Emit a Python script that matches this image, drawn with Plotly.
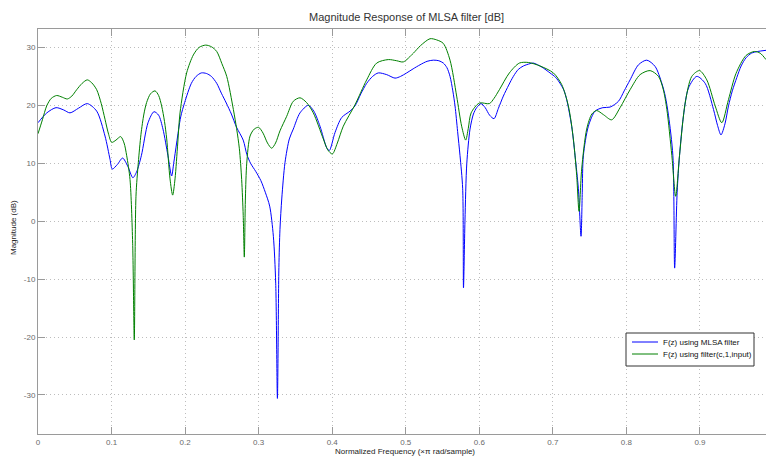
import plotly.graph_objects as go

# Normalized frequency (x pi rad/sample) and magnitude (dB)
freq_mlsa = [0.000, 0.012, 0.0245, 0.035, 0.0435, 0.055, 0.067, 0.0798, 0.0911, 0.0979,
             0.1010, 0.1080, 0.1150, 0.1220, 0.1290, 0.1340, 0.1405, 0.1496, 0.1577, 0.1640,
             0.1699, 0.1767, 0.1817, 0.1845, 0.1885, 0.1940, 0.1994, 0.2085, 0.2150, 0.2221,
             0.2290, 0.2357, 0.2430, 0.2493, 0.2560, 0.2629, 0.2700, 0.2790, 0.2840, 0.2890,
             0.2960, 0.3030, 0.3090, 0.3150, 0.3200, 0.3232, 0.3255, 0.3275, 0.3290, 0.3315,
             0.3358, 0.3417, 0.3471, 0.3562, 0.3675, 0.3750, 0.3834, 0.3925, 0.3961, 0.4038,
             0.4129, 0.4242, 0.4310, 0.4390, 0.4469, 0.4550, 0.4627, 0.4741, 0.4854, 0.4930,
             0.5013, 0.5100, 0.5194, 0.5290, 0.5375, 0.5450, 0.5511, 0.5560, 0.5602, 0.5640,
             0.5670, 0.5705, 0.5738, 0.5774, 0.5785, 0.5805, 0.5830, 0.5874, 0.5920, 0.5964,
             0.6023, 0.6080, 0.6140, 0.6200, 0.6260, 0.6327, 0.6400, 0.6463, 0.6530, 0.6600,
             0.6690, 0.6735, 0.6850, 0.6961, 0.7040, 0.7097, 0.7150, 0.7188, 0.7256, 0.7302,
             0.7347, 0.7383, 0.7400, 0.7415, 0.7483, 0.7574, 0.7680, 0.7778, 0.7892, 0.7970,
             0.8050, 0.8164, 0.8277, 0.8391, 0.8482, 0.8530, 0.8573, 0.8632, 0.8656, 0.8690,
             0.8722, 0.8776, 0.8844, 0.8957, 0.9071, 0.9184, 0.9240, 0.9286, 0.9340, 0.9388,
             0.9440, 0.9501, 0.9560, 0.9626, 0.9700, 0.9785, 0.9898]
mag_mlsa = [17.0, 18.7, 19.6, 19.2, 18.7, 19.5, 20.3, 19.0, 14.7, 10.7,
            9.0, 9.8, 10.9, 9.5, 7.5, 8.5, 11.3, 17.0, 18.9, 18.3,
            15.9, 11.3, 7.8, 10.0, 13.5, 18.0, 20.5, 23.8, 25.0, 25.6,
            25.5, 25.0, 23.8, 22.1, 20.4, 18.5, 16.2, 14.0, 11.5, 10.0,
            8.6, 7.0, 5.0, 2.6, -2.6, -10.7, -30.6, -8.0, -1.4, 4.0,
            10.1, 14.2, 15.9, 18.7, 20.0, 19.0, 16.4, 12.7, 12.2, 15.3,
            17.9, 19.0, 19.9, 22.0, 23.8, 25.0, 25.6, 25.3, 24.7, 25.0,
            25.6, 26.3, 27.0, 27.6, 27.8, 27.7, 27.3, 26.5, 25.0, 22.5,
            19.9, 15.5, 11.3, 5.6, -11.5, 0.0, 10.0, 15.9, 18.5, 19.6,
            20.3, 19.6, 18.3, 17.7, 19.5, 21.6, 23.5, 25.0, 26.2, 26.8,
            27.2, 27.3, 26.6, 25.6, 24.8, 23.8, 22.6, 21.0, 16.4, 11.3,
            5.6, -2.6, 5.0, 11.3, 16.4, 19.0, 19.6, 19.7, 20.7, 22.5,
            24.4, 27.0, 27.8, 26.7, 23.8, 21.5, 18.2, 11.3, -8.1, 5.0,
            11.3, 18.2, 23.0, 25.0, 23.8, 19.3, 16.5, 14.9, 16.8, 19.9,
            22.5, 24.8, 26.8, 28.2, 29.0, 29.3, 29.5]

freq_filter = [0.000, 0.006, 0.0118, 0.018, 0.0254, 0.033, 0.0399, 0.0460, 0.0526, 0.060,
               0.067, 0.0730, 0.0798, 0.0860, 0.0911, 0.0960, 0.1002, 0.1060, 0.1124, 0.1170,
               0.1206, 0.1251, 0.1287, 0.1309, 0.1332, 0.1364, 0.1400, 0.1440, 0.1477, 0.1530,
               0.1591, 0.1640, 0.1681, 0.1720, 0.1750, 0.1795, 0.1831, 0.1863, 0.1900, 0.1931,
               0.2021, 0.2112, 0.2190, 0.2280, 0.2360, 0.2430, 0.2500, 0.2566, 0.2656, 0.2700,
               0.2738, 0.2769, 0.2790, 0.2805, 0.2820, 0.2838, 0.2883, 0.2940, 0.3000, 0.3060,
               0.3120, 0.3177, 0.3230, 0.3290, 0.3381, 0.3471, 0.3562, 0.3650, 0.3743, 0.3879,
               0.3940, 0.4002, 0.4070, 0.4151, 0.4310, 0.4469, 0.4605, 0.4763, 0.4877, 0.4967,
               0.5103, 0.5200, 0.5330, 0.5420, 0.5510, 0.5602, 0.5692, 0.5760, 0.5815, 0.5850,
               0.5889, 0.6000, 0.6137, 0.6200, 0.6273, 0.6409, 0.6545, 0.6667, 0.6826, 0.7007,
               0.7120, 0.7211, 0.7279, 0.7324, 0.7356, 0.7392, 0.7460, 0.7530, 0.7596, 0.7687,
               0.7800, 0.7914, 0.8050, 0.8186, 0.8322, 0.8436, 0.8500, 0.8550, 0.8618, 0.8670,
               0.8722, 0.8799, 0.8889, 0.8994, 0.9093, 0.9207, 0.9297, 0.9388, 0.9490, 0.9626,
               0.9740, 0.9819, 0.9898]
mag_filter = [15.1, 17.5, 19.9, 21.2, 21.7, 21.4, 21.1, 21.6, 22.7, 23.8,
              24.4, 23.9, 22.7, 20.3, 17.6, 15.0, 13.6, 14.0, 14.6, 13.5,
              11.3, 7.2, -3.8, -20.5, 4.3, 10.1, 15.0, 18.5, 20.5, 22.0,
              22.5, 21.7, 19.9, 17.2, 14.2, 7.3, 4.5, 7.3, 13.5, 18.7,
              25.6, 28.7, 30.0, 30.4, 30.1, 29.3, 27.2, 25.0, 19.3, 16.0,
              12.5, 7.2, 1.0, -6.2, 4.0, 10.0, 14.7, 15.9, 16.2, 15.2,
              13.5, 12.6, 13.5, 15.6, 18.1, 20.7, 21.3, 20.5, 18.7, 14.2,
              12.3, 11.6, 13.5, 16.4, 20.1, 24.4, 27.3, 27.9, 27.7, 27.5,
              29.0, 30.3, 31.5, 31.3, 30.7, 27.8, 21.6, 16.4, 14.0, 16.0,
              18.7, 20.4, 20.3, 21.2, 22.7, 25.6, 27.3, 27.4, 26.8, 25.6,
              23.6, 19.9, 14.2, 7.9, 1.7, 9.0, 15.9, 18.5, 19.1, 18.4,
              17.5, 19.6, 22.7, 25.3, 26.0, 25.0, 22.8, 19.3, 11.3, 4.3,
              11.3, 20.4, 25.0, 26.0, 24.4, 19.9, 17.0, 21.0, 25.5, 28.6,
              29.3, 29.0, 27.9]

x_ticks = [0, 0.1, 0.2, 0.3, 0.4, 0.5, 0.6, 0.7, 0.8, 0.9]
x_tick_labels = ["0", "0.1", "0.2", "0.3", "0.4", "0.5", "0.6", "0.7", "0.8", "0.9"]
y_ticks = [-30, -20, -10, 0, 10, 20, 30]
y_tick_labels = ["-30", "-20", "-10", "0", "10", "20", "30"]
series_names = ["F(z) using MLSA filter", "F(z) using filter(c,1,input)"]
series_colors = ["#0000ff", "#008000"]

FONT = "Liberation Sans"
AXIS_GRAY = "#9a9a9a"
GRID_GRAY = "#bdbdbd"

W, H = 766, 458
PLOT_L, PLOT_T, PLOT_B = 38, 29, 434          # plot box in page pixels
ML, MR, MT, MB = PLOT_L, 0, PLOT_T, H - PLOT_B
PW, PH = W - ML - MR, H - MT - MB


def px_x(p):
    return (p - PLOT_L) / PW


def px_y(p):
    return 1 - (p - PLOT_T) / PH


fig = go.Figure()
for fx, fy, nm, col in [(freq_mlsa, mag_mlsa, series_names[0], series_colors[0]),
                        (freq_filter, mag_filter, series_names[1], series_colors[1])]:
    fig.add_trace(go.Scatter(x=fx, y=fy, mode="lines", name=nm, showlegend=False,
                             line=dict(color=col, width=1, shape="spline", smoothing=0.8)))

# Legend box drawn in paper coordinates (MATLAB style)
shapes = [dict(type="rect", xref="paper", yref="paper",
               x0=px_x(626), x1=px_x(754), y0=px_y(366), y1=px_y(333),
               line=dict(color="#333333", width=1), fillcolor="white", layer="above")]
annotations = []
for i, (nm, col) in enumerate(zip(series_names, series_colors)):
    yy = 342 + i * 12
    shapes.append(dict(type="line", xref="paper", yref="paper",
                       x0=px_x(632), x1=px_x(658), y0=px_y(yy), y1=px_y(yy),
                       line=dict(color=col, width=1), layer="above"))
    annotations.append(dict(text=nm, xref="paper", yref="paper", x=px_x(661), y=px_y(yy),
                            xanchor="left", yanchor="middle", showarrow=False,
                            font=dict(family=FONT, size=8, color="#111111")))

annotations += [
    dict(text="Magnitude Response of MLSA filter [dB]", xref="paper", yref="paper",
         x=px_x(406), y=px_y(17), xanchor="center", yanchor="middle", showarrow=False,
         font=dict(family=FONT, size=11, color="#333333")),
    dict(text="Normalized Frequency (×π rad/sample)", xref="paper", yref="paper",
         x=px_x(405), y=px_y(451), xanchor="center", yanchor="middle", showarrow=False,
         font=dict(family=FONT, size=8, color="#222222")),
    dict(text="Magnitude (dB)", xref="paper", yref="paper", textangle=-90,
         x=px_x(13), y=px_y(227), xanchor="center", yanchor="middle", showarrow=False,
         font=dict(family=FONT, size=8, color="#222222")),
]

fig.update_layout(
    width=W, height=H, autosize=False,
    margin=dict(l=ML, r=MR, t=MT, b=MB),
    paper_bgcolor="white", plot_bgcolor="white",
    font=dict(family=FONT, size=8, color="#555555"),
    showlegend=False, hovermode=False,
    shapes=shapes, annotations=annotations,
)

common = dict(ticks="inside", ticklen=7, tickcolor=AXIS_GRAY, tickwidth=1,
              showline=True, linecolor=AXIS_GRAY, linewidth=1,
              showgrid=True, gridcolor=GRID_GRAY, griddash="1px,3px", gridwidth=1,
              zeroline=False, automargin=False,
              tickfont=dict(family=FONT, size=8, color="#6a6a6a"))
fig.update_xaxes(range=[0, 0.9898], tickvals=x_ticks, ticktext=x_tick_labels,
                 mirror="allticks", **common)
fig.update_yaxes(range=[-36.74, 33.18], tickvals=y_ticks, ticktext=y_tick_labels,
                 mirror=False, **common)

# Remove the browser's default 8px body margin so the figure fills the window exactly
fig.write_html("out.html", config={"displayModeBar": False},
               post_script="document.body.style.margin='0';document.body.style.overflow='hidden';")
